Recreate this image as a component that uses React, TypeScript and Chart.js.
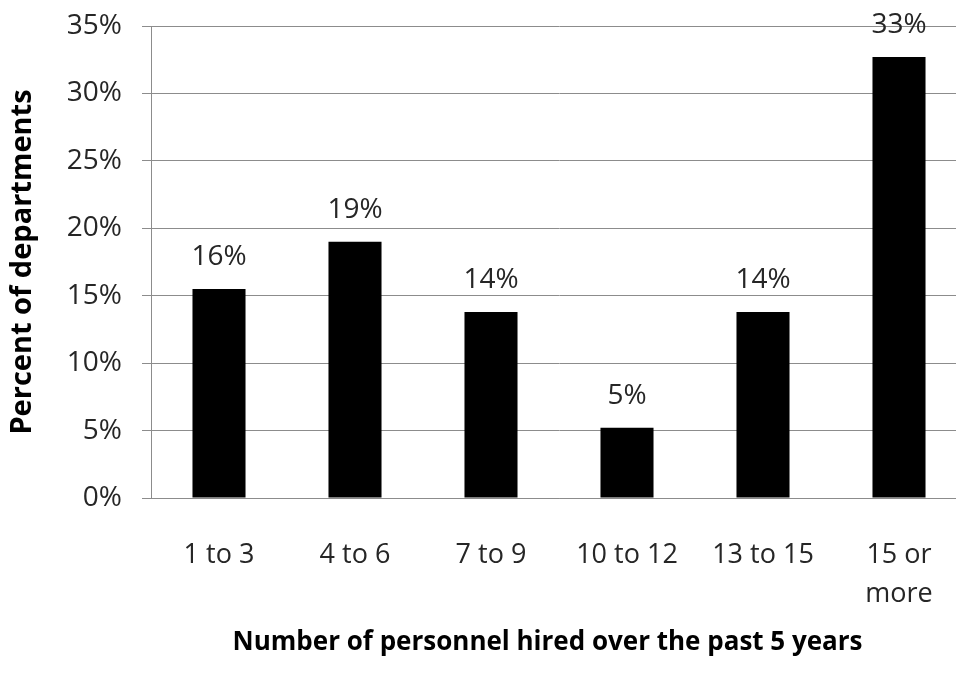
import React, { useEffect, useRef } from "react";
import { Chart, registerables } from "chart.js";

Chart.register(...registerables);

// Hiring groups and the share of departments in each
const categories: (string | string[])[] = [
  "1 to 3",
  "4 to 6",
  "7 to 9",
  "10 to 12",
  "13 to 15",
  ["15 or", "more"],
];
const percentOfDepartments: number[] = [15.5, 19.0, 13.8, 5.2, 13.8, 32.7];
const yTickValues: number[] = [0, 5, 10, 15, 20, 25, 30, 35];

const yTitle = "Percent of departments";
const xTitle = "Number of personnel hired over the past 5 years";

const FONT = "'Open Sans', 'DejaVu Sans', sans-serif";
const GRID = "#8c8c8c";
const TEXT = "#262626";

// Writes the rounded percentage above every bar
const barValueLabels = {
  id: "barValueLabels",
  afterDatasetsDraw(chart: Chart) {
    const { ctx } = chart;
    const meta = chart.getDatasetMeta(0);
    const values = chart.data.datasets[0].data as number[];
    ctx.save();
    ctx.font = `28px ${FONT}`;
    ctx.fillStyle = TEXT;
    ctx.textAlign = "center";
    ctx.textBaseline = "alphabetic";
    meta.data.forEach((bar: any, i: number) => {
      ctx.fillText(`${Math.round(values[i])}%`, bar.x, bar.y - 24);
    });
    ctx.restore();
  },
};

// Horizontal axis title, set slightly left of the plot centre
const xAxisTitle = {
  id: "xAxisTitle",
  afterDraw(chart: Chart) {
    const { ctx, chartArea } = chart;
    ctx.save();
    ctx.font = `bold 26px ${FONT}`;
    ctx.fillStyle = "#000000";
    ctx.textAlign = "center";
    ctx.textBaseline = "middle";
    const cx = chartArea.left + (chartArea.right - chartArea.left) * 0.486;
    ctx.fillText(xTitle, cx, chartArea.bottom + 145);
    ctx.restore();
  },
};

export default function App() {
  const canvasRef = useRef<HTMLCanvasElement | null>(null);

  useEffect(() => {
    if (!canvasRef.current) return;
    const chart = new Chart(canvasRef.current, {
      type: "bar",
      data: {
        labels: categories,
        datasets: [
          {
            data: percentOfDepartments,
            backgroundColor: "#000000",
            borderWidth: 0,
            categoryPercentage: 1,
            barPercentage: 0.39,
          },
        ],
      },
      plugins: [barValueLabels, xAxisTitle],
      options: {
        responsive: false,
        animation: false,
        devicePixelRatio: 1,
        layout: { padding: { top: 26, left: 0, right: 0, bottom: 0 } },
        plugins: {
          legend: { display: false },
          tooltip: { enabled: false },
          title: { display: false },
        },
        scales: {
          x: {
            grid: { display: false, drawTicks: false, tickLength: 0 },
            border: { display: true, color: GRID, width: 1 },
            ticks: {
              color: TEXT,
              font: { family: FONT, size: 27, lineHeight: 1.45 },
              padding: 38,
              maxRotation: 0,
              autoSkip: false,
            },
            title: { display: false },
            afterFit(scale: any) {
              scale.height = 182;
              scale.paddingLeft = 0;
              scale.paddingRight = 0;
            },
          },
          y: {
            min: 0,
            max: 35,
            afterBuildTicks(scale: any) {
              scale.ticks = yTickValues.map((v) => ({ value: v }));
            },
            grid: { color: GRID, lineWidth: 1, drawTicks: true, tickLength: 9 },
            border: { display: true, color: GRID, width: 1 },
            ticks: {
              color: TEXT,
              font: { family: FONT, size: 28 },
              padding: 20,
              callback: (v: any) => `${v}%`,
            },
            title: {
              display: true,
              text: yTitle,
              color: "#000000",
              font: { family: FONT, size: 29, weight: "bold", lineHeight: 1.2 },
              padding: { top: 5, bottom: 0 },
            },
            afterFit(scale: any) {
              scale.width = 151;
              scale.paddingTop = 0;
              scale.paddingBottom = 0;
            },
          },
        },
      },
    });
    return () => chart.destroy();
  }, []);

  return (
    <div
      style={{
        position: "fixed",
        left: 0,
        top: 0,
        width: 956,
        height: 680,
        overflow: "hidden",
        background: "#ffffff",
      }}
    >
      <canvas ref={canvasRef} width={967} height={680} style={{ display: "block" }} />
    </div>
  );
}
